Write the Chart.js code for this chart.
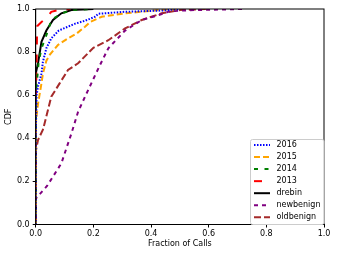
<!DOCTYPE html>
<html>
<head>
<meta charset="utf-8">
<script src="https://cdn.jsdelivr.net/npm/chart.js@4/dist/chart.umd.min.js"></script>
<style>
html,body{margin:0;padding:0;background:#fff;}
canvas{display:block;}
</style>
</head>
<body>
<canvas id="c" width="337" height="255"></canvas>
<script>
// ---- data ----
const labels = ["2016", "2015", "2014", "2013", "drebin", "newbenign", "oldbenign"];
const xTicks = [0.0, 0.2, 0.4, 0.6, 0.8, 1.0];
const yTicks = [0.0, 0.2, 0.4, 0.6, 0.8, 1.0];

const x2016 = [0, 0, 0.003, 0.008, 0.02, 0.025, 0.037, 0.054, 0.08, 0.112, 0.137, 0.17, 0.206, 0.217, 0.31, 0.44, 0.5];
const y2016 = [0, 0.40, 0.60, 0.64, 0.70, 0.755, 0.818, 0.864, 0.90, 0.918, 0.932, 0.945, 0.964, 0.978, 0.987, 0.993, 1.0];

const x2015 = [0, 0, 0.008, 0.02, 0.025, 0.037, 0.05, 0.077, 0.112, 0.141, 0.171, 0.189, 0.229, 0.31, 0.425, 0.5];
const y2015 = [0, 0.47, 0.56, 0.655, 0.70, 0.76, 0.79, 0.833, 0.864, 0.885, 0.918, 0.94, 0.964, 0.98, 0.995, 1.0];

const x2014 = [0, 0, 0.01, 0.02, 0.043, 0.054, 0.09, 0.13, 0.2];
const y2014 = [0, 0.60, 0.75, 0.818, 0.90, 0.949, 0.98, 0.995, 1.0];

const x2013 = [0, 0, 0.003, 0.005, 0.02, 0.037, 0.054, 0.08, 0.12];
const y2013 = [0, 0.50, 0.75, 0.92, 0.94, 0.957, 0.987, 0.995, 1.0];

const xDrebin = [0, 0, 0.008, 0.02, 0.037, 0.06, 0.089, 0.124, 0.2];
const yDrebin = [0, 0.70, 0.748, 0.848, 0.90, 0.949, 0.98, 0.995, 1.0];

const xNew = [0, 0, 0.04, 0.089, 0.124, 0.147, 0.171, 0.223, 0.252, 0.31, 0.368, 0.432, 0.466, 0.55, 0.72];
const yNew = [0, 0.12, 0.18, 0.284, 0.423, 0.523, 0.593, 0.74, 0.818, 0.90, 0.949, 0.974, 0.99, 0.995, 1.0];

const xOld = [0, 0, 0.008, 0.025, 0.031, 0.054, 0.083, 0.112, 0.147, 0.2, 0.252, 0.31, 0.368, 0.437, 0.5, 0.6];
const yOld = [0, 0.338, 0.392, 0.44, 0.47, 0.593, 0.655, 0.717, 0.748, 0.82, 0.855, 0.91, 0.949, 0.98, 0.995, 1.0];

// ---- styles ----
const colors = ["#0000ff", "#ffa500", "#008000", "#ff0000", "#000000", "#800080", "#a52a2a"];
const dashes = [[1.5, 1.5], [6, 3], [4, 6.5], [8, 10], [], [4, 4], [7, 3]];
const xs = [x2016, x2015, x2014, x2013, xDrebin, xNew, xOld];
const ys = [y2016, y2015, y2014, y2013, yDrebin, yNew, yOld];

function zip(a, b) { return a.map((v, i) => ({ x: v, y: b[i] })); }

const datasets = labels.map((l, i) => ({
  label: l,
  data: zip(xs[i], ys[i]),
  borderColor: colors[i],
  backgroundColor: colors[i],
  borderWidth: 2,
  borderDash: dashes[i],
  borderCapStyle: 'butt',
  pointRadius: 0,
  fill: false,
  tension: 0
}));

const FONT = "'DejaVu Sans', sans-serif";

const framePlugin = {
  id: 'frame',
  afterDatasetsDraw(chart) {
    const ctx = chart.ctx, a = chart.chartArea;
    ctx.save();
    ctx.strokeStyle = '#000';
    ctx.lineWidth = 1;
    ctx.setLineDash([]);
    ctx.strokeRect(a.left, a.top, a.right - a.left, a.bottom - a.top);
    ctx.restore();
  }
};

const legendPlugin = {
  id: 'boxlegend',
  afterDraw(chart) {
    const ctx = chart.ctx, a = chart.chartArea;
    const bx = 250.5, by = 139.5, bw = a.right - bx, bh = a.bottom - by;
    ctx.save();
    ctx.fillStyle = 'rgba(255,255,255,0.85)';
    ctx.strokeStyle = '#cccccc';
    ctx.lineWidth = 1;
    ctx.beginPath();
    if (ctx.roundRect) ctx.roundRect(bx, by, bw, bh, 2); else ctx.rect(bx, by, bw, bh);
    ctx.fill();
    ctx.stroke();
    ctx.font = "8px " + FONT;
    ctx.textBaseline = 'middle';
    ctx.textAlign = 'left';
    labels.forEach((l, i) => {
      const yy = 145 + i * 12.05;
      ctx.strokeStyle = colors[i];
      ctx.lineWidth = 2;
      ctx.setLineDash(dashes[i]);
      ctx.lineCap = 'butt';
      ctx.beginPath();
      ctx.moveTo(254, yy);
      ctx.lineTo(270, yy);
      ctx.stroke();
      ctx.setLineDash([]);
      ctx.fillStyle = '#000';
      ctx.fillText(l, 276.5, yy);
    });
    ctx.restore();
  }
};

new Chart(document.getElementById('c'), {
  type: 'line',
  data: { datasets },
  options: {
    responsive: false,
    animation: false,
    events: [],
    layout: { padding: { top: 9, right: 13, left: 0, bottom: 0 } },
    plugins: { legend: { display: false }, tooltip: { enabled: false } },
    scales: {
      x: {
        type: 'linear',
        min: 0, max: 1,
        afterBuildTicks(s) { s.ticks = xTicks.map(v => ({ value: v })); },
        afterFit(s) { s.height = 30.5; },
        grid: { drawOnChartArea: false, tickLength: 3, tickColor: '#000', tickWidth: 1 },
        border: { display: true, color: '#000', width: 1 },
        ticks: { color: '#000', font: { family: FONT, size: 8 }, padding: 2, maxRotation: 0,
                 callback: v => Number(v).toFixed(1) },
        title: { display: true, text: 'Fraction of Calls', color: '#000', font: { family: FONT, size: 8 },
                 padding: { top: 0, bottom: 6.5 } }
      },
      y: {
        type: 'linear',
        min: 0, max: 1,
        afterBuildTicks(s) { s.ticks = yTicks.map(v => ({ value: v })); },
        afterFit(s) { s.width = 35.7; },
        grid: { drawOnChartArea: false, tickLength: 3, tickColor: '#000', tickWidth: 1 },
        border: { display: true, color: '#000', width: 1 },
        ticks: { color: '#000', font: { family: FONT, size: 8 }, padding: 3,
                 callback: v => Number(v).toFixed(1) },
        title: { display: true, text: 'CDF', color: '#000', font: { family: FONT, size: 8 },
                 padding: { top: 4.5, bottom: 0 } }
      }
    }
  },
  plugins: [framePlugin, legendPlugin]
});
</script>
</body>
</html>
